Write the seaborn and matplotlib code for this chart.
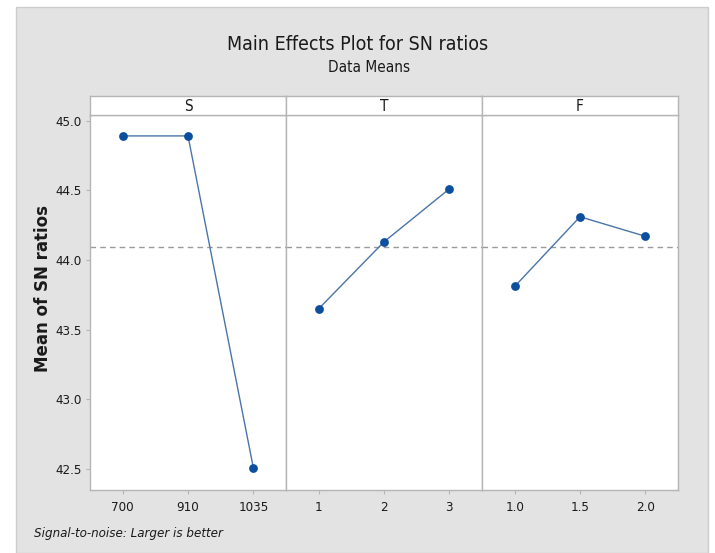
import numpy as np
import pandas as pd
import matplotlib
matplotlib.use('Agg')
import matplotlib.pyplot as plt
import seaborn as sns
from matplotlib.patches import Rectangle

# main effects data (means of SN ratios per level)
factors = ['S', 'T', 'F']
levels_S = ['700', '910', '1035']
levels_T = ['1', '2', '3']
levels_F = ['1.0', '1.5', '2.0']
sn_S = [44.89, 44.89, 42.51]
sn_T = [43.65, 44.13, 44.51]
sn_F = [43.81, 44.31, 44.17]

levels = {'S': levels_S, 'T': levels_T, 'F': levels_F}
means = {'S': sn_S, 'T': sn_T, 'F': sn_F}

rows = []
for f in factors:
    for i, (lv, v) in enumerate(zip(levels[f], means[f])):
        rows.append({'factor': f, 'level': lv, 'pos': i, 'sn': v})
df = pd.DataFrame(rows)
grand_mean = df.groupby('factor')['sn'].mean().mean()

sns.set_style('white')
plt.rcParams['font.family'] = ['Liberation Sans Narrow', 'DejaVu Sans']
plt.rcParams['font.stretch'] = 'condensed'

W, H = 715, 553
fig = plt.figure(figsize=(W / 100, H / 100), dpi=100)
fig.patch.set_facecolor('white')

# gray panel background
fig.patches.append(Rectangle((16 / W, 0), (708 - 16) / W, (H - 7) / H,
                             transform=fig.transFigure, facecolor='#e3e3e3',
                             edgecolor='#cccccc', linewidth=1, zorder=-5))

def fx(px):
    return px / W

def fy(py):
    return 1 - py / H

left, right = 90, 678
top, bottom = 115, 490
strip_top = 96
pw = (right - left) / 3

line_col = '#4a74a8'
mark_col = '#0b4f9e'
grid_col = '#b5b5b5'
txt_col = '#1a1a1a'

axes = []
for k, f in enumerate(factors):
    x0 = left + k * pw
    ax = fig.add_axes([fx(x0), fy(bottom), fx(pw), fy(top) - fy(bottom)])
    sub = df[df['factor'] == f]
    sns.lineplot(data=sub, x='pos', y='sn', color=line_col, linewidth=1.0, ax=ax)
    sns.scatterplot(data=sub, x='pos', y='sn', color=mark_col, s=40,
                    edgecolor=mark_col, linewidth=0, ax=ax, zorder=3)
    ax.axhline(grand_mean, color='#9a9a9a', linestyle=(0, (4, 3)), linewidth=1, zorder=1)
    ax.set_xlim(-0.5, 2.5)
    ax.set_ylim(42.35, 45.04)
    ax.set_xticks(sub['pos'])
    ax.set_xticklabels(sub['level'], fontsize=9.5, color=txt_col)
    ax.set_xlabel('')
    ax.set_ylabel('')
    for s in ax.spines.values():
        s.set_color(grid_col)
        s.set_linewidth(1)
    ax.tick_params(axis='x', length=3, color=grid_col, pad=5, bottom=True)
    if k == 0:
        ax.set_yticks([42.5, 43.0, 43.5, 44.0, 44.5, 45.0])
        ax.set_yticklabels(['42.5', '43.0', '43.5', '44.0', '44.5', '45.0'],
                           fontsize=9.5, color=txt_col)
        ax.tick_params(axis='y', length=3, color=grid_col, pad=3, left=True)
    else:
        ax.set_yticks([])
    ax.set_facecolor('white')

    # strip header
    sax = fig.add_axes([fx(x0), fy(top), fx(pw), fy(strip_top) - fy(top)])
    sax.set_xticks([])
    sax.set_yticks([])
    sax.set_facecolor('white')
    for s in sax.spines.values():
        s.set_color(grid_col)
        s.set_linewidth(1)
    sax.text(0.5, 0.45, f, ha='center', va='center', fontsize=11, color=txt_col,
             transform=sax.transAxes)
    axes.append(ax)

fig.text(fx(358), fy(45), 'Main Effects Plot for SN ratios', ha='center', va='center',
         fontsize=14, color=txt_col)
fig.text(fx(369), fy(68), 'Data Means', ha='center', va='center', fontsize=11, color=txt_col)
fig.text(fx(43), fy(289), 'Mean of SN ratios', ha='center', va='center', rotation=90,
         fontsize=12, family=['DejaVu Sans'], stretch='normal', weight='semibold', color=txt_col)
fig.text(fx(34), fy(534), 'Signal-to-noise: Larger is better', ha='left', va='center',
         fontsize=9.5, style='italic', color=txt_col)

fig.savefig('out.png', dpi=100, facecolor=fig.get_facecolor())
